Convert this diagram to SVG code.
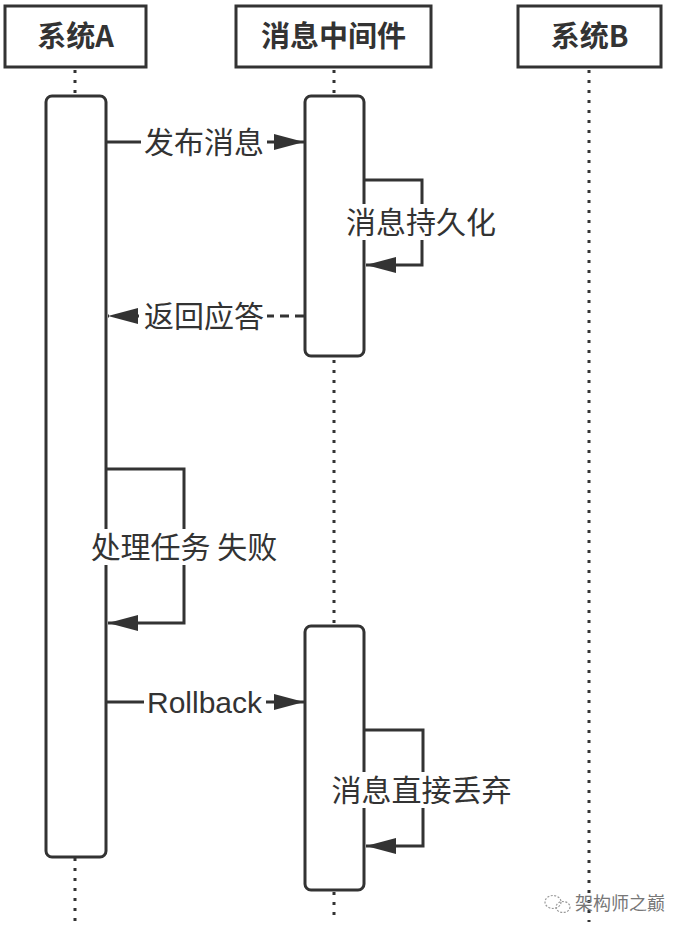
<svg xmlns="http://www.w3.org/2000/svg" width="676" height="934" viewBox="0 0 676 934">
<style>
.box{fill:#fff;stroke:#333;stroke-width:3}
.act{fill:#fff;stroke:#333;stroke-width:3}
.life{stroke:#333;stroke-width:3;stroke-dasharray:3 7;fill:none}
.msg{stroke:#333;stroke-width:3;fill:none}
.dash{stroke-dasharray:9 6}
.hd{font-family:"Noto Sans CJK SC","Liberation Sans",sans-serif;font-size:29px;font-weight:bold;fill:#333;text-anchor:middle}
.lb{font-family:"Noto Sans CJK SC","Liberation Sans",sans-serif;font-size:30px;fill:#333;text-anchor:middle}
.bg{fill:#fff}
.wm{font-family:"Noto Sans CJK SC",sans-serif;font-size:18px;fill:#777}
</style>
<defs>
<marker id="ah" markerUnits="userSpaceOnUse" markerWidth="32" markerHeight="18" refX="30" refY="8" orient="auto">
<path d="M0,0 L30,8 L0,16 z" fill="#333"/>
</marker>
</defs>
<g id="lifelines">
<line class="life" x1="75" y1="70" x2="75" y2="96"/>
<line class="life" x1="75" y1="858" x2="75" y2="922"/>
<line class="life" x1="334" y1="70" x2="334" y2="96"/>
<line class="life" x1="334" y1="360" x2="334" y2="625"/>
<line class="life" x1="334" y1="892" x2="334" y2="922"/>
<line class="life" x1="589" y1="70" x2="589" y2="922"/>
</g>
<g id="sysA"><rect class="box" x="5" y="6" width="141" height="61"/><text class="hd" x="75.5" y="47">系统A</text></g>
<g id="mq"><rect class="box" x="236" y="6" width="195" height="61"/><text class="hd" x="333.5" y="47">消息中间件</text></g>
<g id="sysB"><rect class="box" x="518" y="6" width="143" height="61"/><text class="hd" x="589.5" y="47">系统B</text></g>
<g id="actA"><rect class="act" x="46" y="96" width="60" height="761" rx="6"/></g>
<g id="actM1"><rect class="act" x="305" y="96" width="59" height="260" rx="6"/></g>
<g id="actM2"><rect class="act" x="305" y="626" width="59" height="264" rx="6"/></g>
<g id="connectors">
<line class="msg" x1="107" y1="142" x2="304" y2="142" marker-end="url(#ah)"/>
<path class="msg" d="M365,180 H422 V265 H366" marker-end="url(#ah)"/>
<line class="msg dash" x1="304" y1="316" x2="108" y2="316" marker-end="url(#ah)"/>
<path class="msg" d="M107,469 H184 V623 H108" marker-end="url(#ah)"/>
<line class="msg" x1="107" y1="702" x2="304" y2="702" marker-end="url(#ah)"/>
<path class="msg" d="M365,730 H423 V846 H366" marker-end="url(#ah)"/>
</g>
<g id="labels">
<rect class="bg" x="141" y="125" width="126" height="34"/>
<text class="lb" x="204" y="153">发布消息</text>
<rect class="bg" x="344" y="204" width="154" height="36"/>
<text class="lb" x="421" y="233">消息持久化</text>
<rect class="bg" x="141" y="299" width="126" height="34"/>
<text class="lb" x="204" y="327">返回应答</text>
<rect class="bg" x="86" y="529" width="196" height="36"/>
<text class="lb" x="184" y="558">处理任务 失败</text>
<rect class="bg" x="144" y="685" width="122" height="34"/>
<text class="lb" x="204.5" y="713" style="font-family:'Liberation Sans','Noto Sans',sans-serif;font-size:30px">Rollback</text>
<rect class="bg" x="330" y="772" width="183" height="36"/>
<text class="lb" x="421.5" y="801">消息直接丢弃</text>
</g>
<g id="watermark">
<ellipse cx="553" cy="902" rx="8" ry="6.5" fill="none" stroke="#999" stroke-width="1.2" stroke-dasharray="2 1.5"/>
<ellipse cx="563" cy="907" rx="7" ry="5.5" fill="none" stroke="#999" stroke-width="1.2" stroke-dasharray="2 1.5"/>
<text class="wm" x="575" y="910">架构师之巅</text>
</g>
</svg>
